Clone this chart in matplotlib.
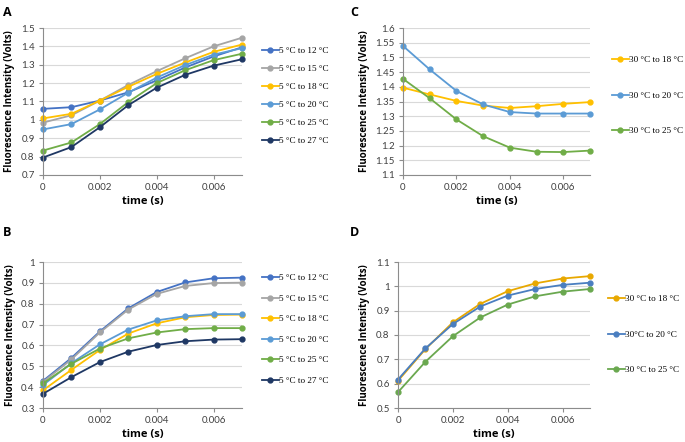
import matplotlib
matplotlib.use("Agg")
import matplotlib.pyplot as plt
from matplotlib import ticker

time_s = [0, 0.001, 0.002, 0.003, 0.004, 0.005, 0.006, 0.007]

# Panel A: 5 °C start
a_labels = ["5 °C to 12 °C", "5 °C to 15 °C", "5 °C to 18 °C",
            "5 °C to 20 °C", "5 °C to 25 °C", "5 °C to 27 °C"]
a_12 = [1.060, 1.069, 1.105, 1.150, 1.215, 1.285, 1.345, 1.395]
a_15 = [0.985, 1.025, 1.105, 1.190, 1.265, 1.335, 1.400, 1.447]
a_18 = [1.008, 1.033, 1.105, 1.180, 1.250, 1.312, 1.370, 1.410]
a_20 = [0.948, 0.977, 1.057, 1.148, 1.230, 1.298, 1.355, 1.390]
a_25 = [0.833, 0.877, 0.977, 1.097, 1.200, 1.270, 1.325, 1.360]
a_27 = [0.795, 0.852, 0.960, 1.080, 1.175, 1.245, 1.295, 1.330]

# Panel B
b_labels = a_labels
b_12 = [0.430, 0.540, 0.667, 0.778, 0.856, 0.902, 0.922, 0.925]
b_15 = [0.425, 0.533, 0.662, 0.772, 0.847, 0.885, 0.899, 0.901]
b_18 = [0.385, 0.483, 0.578, 0.657, 0.706, 0.735, 0.746, 0.748]
b_20 = [0.410, 0.515, 0.605, 0.676, 0.720, 0.740, 0.750, 0.750]
b_25 = [0.418, 0.512, 0.585, 0.634, 0.662, 0.678, 0.683, 0.683]
b_27 = [0.368, 0.448, 0.520, 0.570, 0.602, 0.620, 0.628, 0.630]

# Panel C: 30 °C start
c_labels = ["30 °C to 18 °C", "30 °C to 20 °C", "30 °C to 25 °C"]
c_18 = [1.397, 1.374, 1.352, 1.336, 1.328, 1.334, 1.342, 1.348]
c_20 = [1.539, 1.459, 1.386, 1.340, 1.314, 1.309, 1.309, 1.309]
c_25 = [1.427, 1.361, 1.289, 1.232, 1.193, 1.179, 1.178, 1.183]

# Panel D
d_labels = ["30 °C to 18 °C", "30°C to 20 °C", "30 °C to 25 °C"]
d_18 = [0.612, 0.742, 0.852, 0.928, 0.980, 1.012, 1.032, 1.042]
d_20 = [0.617, 0.745, 0.845, 0.917, 0.962, 0.989, 1.006, 1.015]
d_25 = [0.565, 0.690, 0.795, 0.872, 0.925, 0.959, 0.978, 0.989]

six_colors = ["#4472C4", "#A5A5A5", "#FFC000", "#5B9BD5", "#70AD47", "#1F3864"]
c_colors = ["#FFC000", "#5B9BD5", "#70AD47"]
d_colors = ["#E8A800", "#4A7EC0", "#6AA84F"]

W, H = 685, 442
fig = plt.figure(figsize=(W / 100, H / 100), dpi=100)


def add_axes(left, right, top, bottom):
    return fig.add_axes([left / W, 1 - bottom / H, (right - left) / W, (bottom - top) / H])


def style(ax, ylim, ystep):
    ax.set_xlim(0, 0.007)
    ax.set_ylim(*ylim)
    ax.xaxis.set_major_locator(ticker.FixedLocator([0, 0.002, 0.004, 0.006]))
    ax.xaxis.set_major_formatter(ticker.FuncFormatter(lambda v, p: "0" if v == 0 else f"{v:g}"))
    ax.yaxis.set_major_locator(ticker.MultipleLocator(ystep))
    ax.yaxis.set_major_formatter(ticker.FuncFormatter(lambda v, p: f"{round(v, 3):g}"))
    ax.grid(axis="y", color="#D9D9D9", linewidth=0.8)
    ax.set_axisbelow(True)
    for s in ("top", "right"):
        ax.spines[s].set_visible(False)
    for s in ("left", "bottom"):
        ax.spines[s].set_color("#8C8C8C")
        ax.spines[s].set_linewidth(0.8)
    ax.tick_params(axis="both", labelsize=7, colors="#404040", length=3, width=0.8,
                   color="#8C8C8C", pad=3)
    for lab in ax.get_xticklabels() + ax.get_yticklabels():
        lab.set_fontfamily("Lato")
    ax.set_xlabel("time (s)", fontsize=8, fontweight="bold", family="Open Sans", labelpad=3)
    ax.set_ylabel("Fluorescence Intensity (Volts)", fontsize=7, fontweight="bold",
                  family="Open Sans", labelpad=4)


def draw(ax, series, labels, colors, legend_x, legend_top, spacing):
    handles = []
    for ys, lab, col in zip(series, labels, colors):
        h, = ax.plot(time_s, ys, color=col, marker="o", markersize=3.5, linewidth=1.3,
                     label=lab, clip_on=False)
        handles.append(h)
    leg = ax.legend(handles=handles, loc="upper left",
                    bbox_to_anchor=(legend_x, legend_top), bbox_transform=fig.transFigure,
                    frameon=False, prop={"family": "Liberation Serif", "size": 6.6},
                    handlelength=1.8, handletextpad=0.1, labelspacing=spacing,
                    borderaxespad=0, borderpad=0)
    return leg


axA = add_axes(43, 242, 28, 175)
style(axA, (0.7, 1.5), 0.1)
draw(axA, [a_12, a_15, a_18, a_20, a_25, a_27], a_labels, six_colors,
     262 / W, 1 - 47 / H, 1.04)

axB = add_axes(43, 242, 262, 408)
style(axB, (0.3, 1.0), 0.1)
draw(axB, [b_12, b_15, b_18, b_20, b_25, b_27], b_labels, six_colors,
     262 / W, 1 - 274 / H, 1.32)

axC = add_axes(403, 590, 28, 175)
style(axC, (1.1, 1.6), 0.05)
draw(axC, [c_18, c_20, c_25], c_labels, c_colors,
     612 / W, 1 - 56 / H, 2.94)

axD = add_axes(398, 590, 262, 408)
style(axD, (0.5, 1.1), 0.1)
draw(axD, [d_18, d_20, d_25], d_labels, d_colors,
     608 / W, 1 - 295 / H, 2.94)

for txt, x, y in (("A", 3, 12), ("B", 3, 233), ("C", 350, 12), ("D", 350, 233)):
    fig.text(x / W, 1 - y / H, txt, fontsize=9, fontweight="bold", family="Open Sans",
             va="center", ha="left")

fig.savefig("out.png", dpi=100)
